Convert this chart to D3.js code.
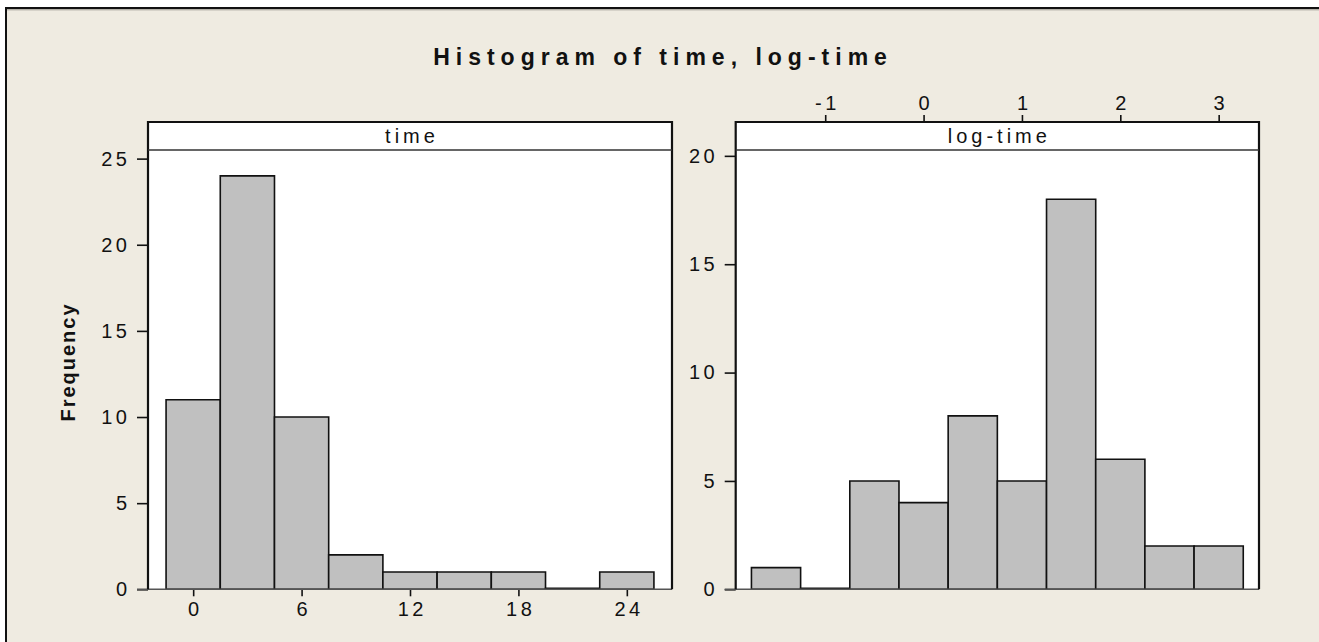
<!DOCTYPE html>
<html>
<head>
<meta charset="utf-8">
<script src="https://cdn.jsdelivr.net/npm/d3@7"></script>
<style>
  body { margin: 0; background: #fff; overflow: hidden; }
  svg { display: block; }
  text { font-family: "Liberation Sans", Arial, sans-serif; fill: #111; }
</style>
</head>
<body>
<div id="chart-container"></div>
<script>
const width = 1319;
const height = 642;

// histogram data
const timeMids = [0, 3, 6, 9, 12, 15, 18, 21, 24];
const timeCounts = [11, 24, 10, 2, 1, 1, 1, 0, 1];
const timeBinWidth = 3;
const timeTicks = [0, 6, 12, 18, 24];
const timeYTicks = [0, 5, 10, 15, 20, 25];

const logMids = [-1.5, -1, -0.5, 0, 0.5, 1, 1.5, 2, 2.5, 3];
const logCounts = [1, 0, 5, 4, 8, 5, 18, 6, 2, 2];
const logBinWidth = 0.5;
const logTicks = [-1, 0, 1, 2, 3];
const logYTicks = [0, 5, 10, 15, 20];

const svg = d3.select("#chart-container")
    .append("svg")
    .attr("width", width)
    .attr("height", height);

// outer frame
svg.append("rect")
    .attr("x", 6).attr("y", 8)
    .attr("width", width + 50).attr("height", height + 50)
    .attr("fill", "#efebe1")
    .attr("stroke", "#111")
    .attr("stroke-width", 2);
svg.append("line")
    .attr("x1", 7).attr("x2", width)
    .attr("y1", 9.8).attr("y2", 9.8)
    .attr("stroke", "#9a978f").attr("stroke-width", 1);

svg.append("text")
    .attr("x", 663)
    .attr("y", 65)
    .attr("text-anchor", "middle")
    .style("font-size", "23px")
    .style("font-weight", "bold")
    .style("letter-spacing", "6px")
    .text("Histogram of time, log-time");

svg.append("text")
    .attr("transform", "translate(75,362) rotate(-90)")
    .attr("text-anchor", "middle")
    .style("font-size", "20px")
    .style("font-weight", "bold")
    .style("letter-spacing", "2px")
    .text("Frequency");

const panelTop = 122, stripH = 28, base = 589.3;
const fmt = d => String(d);

function panel(opts) {
    const x = d3.scaleLinear().domain(opts.xDomain).range([opts.left, opts.right]);
    const y = d3.scaleLinear().domain([0, opts.yMax]).range([base, panelTop + stripH]);
    const g = svg.append("g");

    g.append("rect")
        .attr("x", opts.left).attr("y", panelTop)
        .attr("width", opts.right - opts.left).attr("height", base - panelTop)
        .attr("fill", "#fff");

    // bars (paths so an empty bin still shows as a line)
    g.selectAll("path.bar")
        .data(opts.mids.map((m, i) => ({ m: m, c: opts.counts[i] })))
        .enter().append("path")
        .attr("class", "bar")
        .attr("d", d => {
            const x0 = x(d.m - opts.binWidth / 2), x1 = x(d.m + opts.binWidth / 2);
            const y0 = y(0), y1 = y(d.c) - (d.c === 0 ? 1 : 0);
            return `M${x0},${y0}V${y1}H${x1}V${y0}Z`;
        })
        .attr("fill", "#c0c0c0")
        .attr("stroke", "#111")
        .attr("stroke-width", 1.6);

    // y axis
    const yAxis = d3.axisLeft(y).tickValues(opts.yTicks).tickFormat(fmt)
        .tickSize(11).tickPadding(10).tickSizeOuter(0);
    const ya = g.append("g")
        .attr("transform", `translate(${opts.left},0)`)
        .call(yAxis);
    ya.select(".domain").remove();
    ya.selectAll("line").attr("stroke", "#111").attr("stroke-width", 1.6);
    ya.selectAll("text")
        .style("font-size", "20px")
        .style("letter-spacing", "3.5px")
        .attr("dx", "3.5px");

    // x axis
    const xAxis = (opts.xTop ? d3.axisTop(x) : d3.axisBottom(x))
        .tickValues(opts.xTicks).tickFormat(fmt)
        .tickSize(7).tickPadding(opts.xTop ? 5 : 6).tickSizeOuter(0);
    const xa = g.append("g")
        .attr("transform", `translate(0,${opts.xTop ? panelTop : base})`)
        .call(xAxis);
    xa.select(".domain").remove();
    xa.selectAll("line").attr("stroke", "#111").attr("stroke-width", 1.6);
    xa.selectAll("text")
        .style("font-size", "20px")
        .style("letter-spacing", "3.5px")
        .attr("dx", "1.75px");

    // baseline
    g.append("line")
        .attr("x1", opts.left - 11).attr("x2", opts.right)
        .attr("y1", base).attr("y2", base)
        .attr("stroke", "#555").attr("stroke-width", 1.4);

    // frame sides and strip
    g.append("path")
        .attr("d", `M${opts.left},${base}V${panelTop}H${opts.right}V${base}`)
        .attr("fill", "none")
        .attr("stroke", "#111")
        .attr("stroke-width", 2.2);
    g.append("line")
        .attr("x1", opts.left).attr("x2", opts.right)
        .attr("y1", panelTop + stripH).attr("y2", panelTop + stripH)
        .attr("stroke", "#333").attr("stroke-width", 1.3);
    g.append("text")
        .attr("x", (opts.left + opts.right) / 2 + 2)
        .attr("y", panelTop + 21)
        .attr("text-anchor", "middle")
        .style("font-size", "20px")
        .style("letter-spacing", "4px")
        .text(opts.label);
}

panel({
    left: 148, right: 672,
    xDomain: [-2.5, 26.5], yMax: 25.5,
    mids: timeMids, counts: timeCounts, binWidth: timeBinWidth,
    xTicks: timeTicks, yTicks: timeYTicks,
    xTop: false, label: "time"
});

panel({
    left: 735.7, right: 1259,
    xDomain: [-1.91, 3.41], yMax: 20.27,
    mids: logMids, counts: logCounts, binWidth: logBinWidth,
    xTicks: logTicks, yTicks: logYTicks,
    xTop: true, label: "log-time"
});
</script>
</body>
</html>
